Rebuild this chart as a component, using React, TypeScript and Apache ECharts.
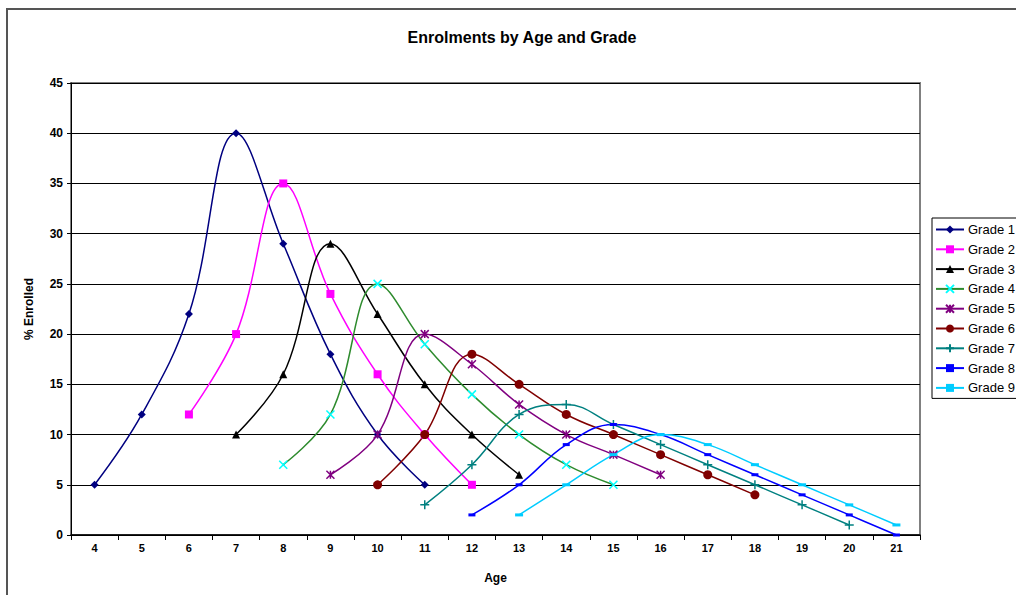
import React, { useEffect, useRef } from "react";
import * as echarts from "echarts";

const ages = ["4", "5", "6", "7", "8", "9", "10", "11", "12", "13", "14", "15", "16", "17", "18", "19", "20", "21"];
const grade1 = [5, 12, 22, 40, 29, 18, 10, 5, null, null, null, null, null, null, null, null, null, null];
const grade2 = [null, null, 12, 20, 35, 24, 16, 10, 5, null, null, null, null, null, null, null, null, null];
const grade3 = [null, null, null, 10, 16, 29, 22, 15, 10, 6, null, null, null, null, null, null, null, null];
const grade4 = [null, null, null, null, 7, 12, 25, 19, 14, 10, 7, 5, null, null, null, null, null, null];
const grade5 = [null, null, null, null, null, 6, 10, 20, 17, 13, 10, 8, 6, null, null, null, null, null];
const grade6 = [null, null, null, null, null, null, 5, 10, 18, 15, 12, 10, 8, 6, 4, null, null, null];
const grade7 = [null, null, null, null, null, null, null, 3, 7, 12, 13, 11, 9, 7, 5, 3, 1, null];
const grade8 = [null, null, null, null, null, null, null, null, 2, 5, 9, 11, 10, 8, 6, 4, 2, 0];
const grade9 = [null, null, null, null, null, null, null, null, null, 2, 5, 8, 10, 9, 7, 5, 3, 1];

const seriesNames = ["Grade 1", "Grade 2", "Grade 3", "Grade 4", "Grade 5", "Grade 6", "Grade 7", "Grade 8", "Grade 9"];
const seriesData = [grade1, grade2, grade3, grade4, grade5, grade6, grade7, grade8, grade9];

const FONT = "'Liberation Sans', Arial, sans-serif";

const styles = [
  { line: "#000080", marker: "#000080", symbol: "diamond", size: 8, stroke: false },
  { line: "#FF00FF", marker: "#FF00FF", symbol: "rect", size: 8, stroke: false },
  { line: "#000000", marker: "#000000", symbol: "triangle", size: 8, stroke: false },
  { line: "#2E8B2E", marker: "#00FFFF", symbol: "path://M0,0L10,10M10,0L0,10", size: 8, stroke: true },
  { line: "#800080", marker: "#800080", symbol: "path://M0,0L10,10M10,0L0,10M5,0L5,10", size: 8, stroke: true },
  { line: "#800000", marker: "#800000", symbol: "circle", size: 9, stroke: false },
  { line: "#008080", marker: "#008080", symbol: "path://M5,0L5,10M0,5L10,5", size: 9, stroke: true },
  { line: "#0000FF", marker: "#0000FF", symbol: "rect", size: [7, 3], stroke: false },
  { line: "#00CCFF", marker: "#00CCFF", symbol: "rect", size: [8, 3], stroke: false },
];

export default function App() {
  const ref = useRef<HTMLDivElement>(null);
  useEffect(() => {
    if (!ref.current) return;
    const chart = echarts.init(ref.current, null, { renderer: "svg" });
    const series = seriesNames.map((name, i) => {
      const s = styles[i];
      return {
        name,
        type: "line",
        data: seriesData[i],
        smooth: 0.4,
        symbol: s.symbol,
        symbolSize: s.size,
        showAllSymbol: true,
        lineStyle: { color: s.line, width: 1.5 },
        itemStyle: s.stroke
          ? { color: s.marker, borderColor: s.marker, borderWidth: 1.5 }
          : { color: s.marker, borderWidth: 0 },
        emphasis: { disabled: true },
      };
    });
    chart.setOption({
      animation: false,
      backgroundColor: "#ffffff",
      title: {
        text: "Enrolments by Age and Grade",
        left: 517,
        textAlign: "center",
        top: 24,
        textStyle: { fontFamily: FONT, fontSize: 16, fontWeight: "bold", color: "#000" },
      },
      graphic: [
        {
          type: "rect",
          shape: { x: 7, y: 9, width: 1200, height: 800 },
          style: { fill: "none", stroke: "#555555", lineWidth: 2 },
          silent: true,
          z: -1,
        },
      ],
      legend: {
        orient: "vertical",
        left: 932,
        top: 218,
        padding: [5, 4, 4, 3],
        itemWidth: 28,
        itemHeight: 10,
        itemGap: 6.8,
        borderColor: "#000",
        borderWidth: 1,
        backgroundColor: "#fff",
        data: seriesNames,
        textStyle: { fontFamily: FONT, fontSize: 13, color: "#000", padding: [0, 0, 0, -1] },
      },
      grid: {
        left: 71,
        right: 96,
        top: 83,
        bottom: 60,
        show: true,
        borderColor: "#808080",
        borderWidth: 2,
        backgroundColor: "#fff",
      },
      xAxis: {
        type: "category",
        data: ages,
        boundaryGap: true,
        name: "Age",
        nameLocation: "middle",
        nameGap: 37,
        nameTextStyle: { fontFamily: FONT, fontSize: 12, fontWeight: "bold", color: "#000" },
        axisLine: { lineStyle: { color: "#000", width: 1.5 } },
        axisTick: { show: true, length: 5, lineStyle: { color: "#000" } },
        axisLabel: { fontFamily: FONT, fontSize: 11, fontWeight: "bold", color: "#000", margin: 7 },
        splitLine: { show: false },
      },
      yAxis: {
        type: "value",
        min: 0,
        max: 45,
        interval: 5,
        name: "% Enrolled",
        nameLocation: "middle",
        nameGap: 36,
        nameRotate: 90,
        nameTextStyle: { fontFamily: FONT, fontSize: 12, fontWeight: "bold", color: "#000" },
        axisLine: { show: true, lineStyle: { color: "#000", width: 1 } },
        axisTick: { show: true, length: 4, lineStyle: { color: "#000" } },
        axisLabel: { fontFamily: FONT, fontSize: 12, fontWeight: "bold", color: "#000", margin: 8 },
        splitLine: { show: true, lineStyle: { color: "#000", width: 1 } },
      },
      series,
    });
    return () => chart.dispose();
  }, []);
  return (
    <div
      ref={ref}
      style={{ position: "fixed", left: 0, top: 0, width: 1016, height: 595, background: "#fff" }}
    />
  );
}
